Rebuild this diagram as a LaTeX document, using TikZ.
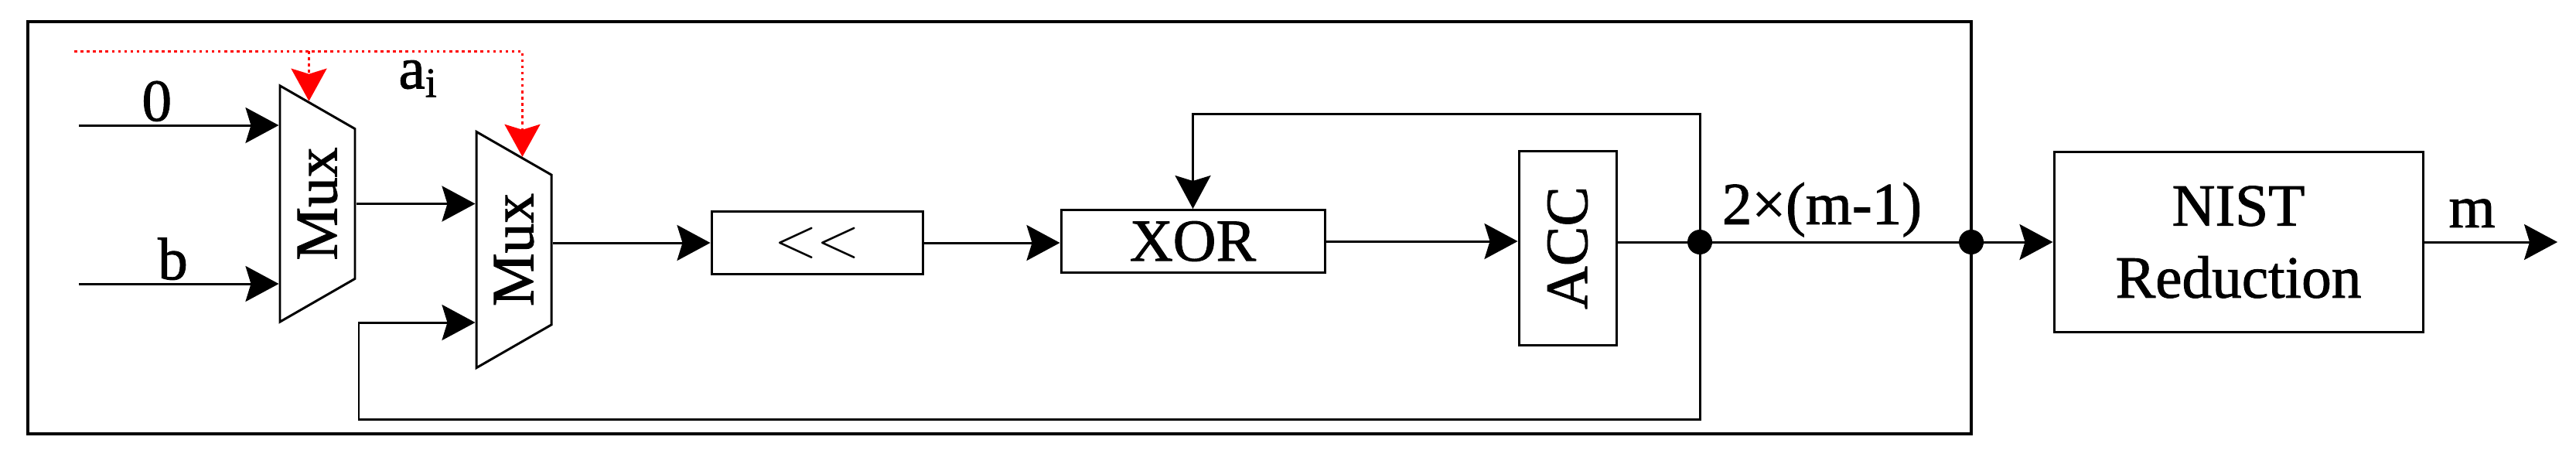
\documentclass[tikz,border=0pt]{standalone}
\usepackage{fontspec}
\setmainfont{Liberation Serif}[FakeBold=1.2]
\usetikzlibrary{arrows.meta,shapes.geometric,calc}

\begin{document}
\begin{tikzpicture}[
  font=\fontsize{22}{26.5}\selectfont,
  line width=0.85pt,
  arr/.style={-{Stealth[length=4.3mm,width=4.6mm,inset=0.7mm]}},
  selarr/.style={red, dash pattern=on 1pt off 1.3pt, -{Stealth[length=4.2mm,width=4.6mm,inset=0.7mm]}},
  box/.style={draw, rectangle, inner sep=0pt},
  muxbox/.style={draw, trapezium, trapezium left angle=127, trapezium right angle=127,
    trapezium stretches=true, rotate=90, minimum width=3.07cm, minimum height=0.97cm, inner sep=1pt}
]
  \useasboundingbox (0,0) rectangle (33.31,5.99);

  % Outer frame round the multiplier
  \draw[line width=1.4pt] (0.36,0.38) rectangle (25.49,5.71);

  % Blocks (mux and ACC are turned by 90: their north side is on the left)
  \node[muxbox] (mux1) at (4.105,3.355) {Mux};
  \node[muxbox] (mux2) at (6.645,2.76) {Mux};
  \node[box, minimum width=2.73cm, minimum height=0.81cm] (shl) at (10.565,2.85) {$<<$};
  \node[box, minimum width=3.41cm, minimum height=0.81cm] (xor) at (15.425,2.87) {XOR};
  \node[box, rotate=90, minimum width=2.51cm, minimum height=1.26cm] (acc) at (20.27,2.785) {ACC};
  \node[box, minimum width=4.77cm, minimum height=2.33cm, align=center] (nist) at (28.945,2.86) {NIST\\Reduction};

  % Free ends and corners
  \coordinate (in0) at (1.02,4.37);
  \coordinate (inb) at (1.02,2.32);
  \coordinate (asel) at (0.96,5.33);
  \coordinate (j1) at (21.98,2.86);
  \coordinate (j2) at (25.49,2.86);
  \coordinate (fbtop) at (21.98,4.52);
  \coordinate (fbbot) at (4.64,0.57);
  \coordinate (fbin) at (4.64,1.82);
  \coordinate (mout) at (33.07,2.86);
  \coordinate (s1) at ($(mux1.top right corner)!0.39!(mux1.bottom right corner)$);
  \coordinate (s2) at ($(mux2.top right corner)!0.61!(mux2.bottom right corner)$);

  % Inputs
  \draw[arr] (in0) -- (in0 -| mux1.north) node[pos=0.39, above, inner sep=1pt] {0};
  \draw[arr] (inb) -- (inb -| mux1.north) node[pos=0.47, above, inner sep=1pt] {b};

  % Select line a_i
  \draw[selarr] (asel) -| (s2);
  \draw[selarr] (s1 |- asel) -- (s1);
  \node[below, inner sep=3pt] (ai) at (5.41,5.33) {a\textsubscript{i}};

  % Data path
  \draw[arr] (mux1.south) -- (mux1.south -| mux2.north);
  \draw[arr] (shl.west -| mux2.south) -- (shl.west);
  \draw[arr] (shl.east) -- (shl.east -| xor.west);
  \draw[arr] (xor.east) -- (xor.east -| acc.north);
  \draw (acc.south |- j1) -- (j1) -- (j2) node[pos=0.45, above, inner sep=1.5pt] {2×(m-1)};
  \draw[arr] (j2) -- (nist.west);
  \draw[arr] (nist.east) -- (mout) node[pos=0.36, above, inner sep=5pt] {m};

  % Feedback loops
  \draw[arr] (j1) -- (fbtop) -| (xor.north);
  \draw[arr] (j1) |- (fbbot) -- (fbin) -- (fbin -| mux2.north);

  \fill (j1) circle (0.16);
  \fill (j2) circle (0.16);
\end{tikzpicture}
\end{document}
